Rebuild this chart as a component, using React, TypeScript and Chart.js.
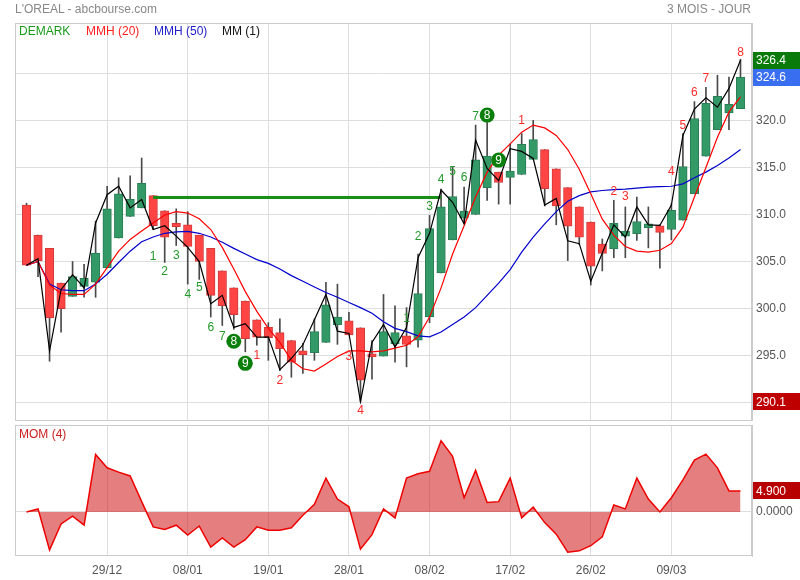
import React, { useEffect, useRef } from 'react';
import { Chart, registerables } from 'chart.js';

Chart.register(...registerables);

const FONT = 'Arial, "Liberation Sans", sans-serif';

// Trading days (17/12/2020 .. 17/03/2021)
const dates = [
  '17/12', '18/12', '21/12', '22/12', '23/12', '24/12', '28/12', '29/12', '30/12', '31/12',
  '04/01', '05/01', '06/01', '07/01', '08/01', '11/01', '12/01', '13/01', '14/01', '15/01',
  '18/01', '19/01', '20/01', '21/01', '22/01', '25/01', '26/01', '27/01', '28/01', '29/01',
  '01/02', '02/02', '03/02', '04/02', '05/02', '08/02', '09/02', '10/02', '11/02', '12/02',
  '15/02', '16/02', '17/02', '18/02', '19/02', '22/02', '23/02', '24/02', '25/02', '26/02',
  '01/03', '02/03', '03/03', '04/03', '05/03', '08/03', '09/03', '10/03', '11/03', '12/03',
  '15/03', '16/03', '17/03',
];

// MM (1): closing price
const closes = [
  304.6, 305.3, 295.5, 302.0, 303.6, 302.2, 309.1, 312.1, 313.0, 310.7,
  311.6, 308.4, 308.8, 307.7, 306.5, 305.0, 300.5, 301.4, 298.0, 298.4,
  296.95, 297.0, 293.5, 294.7, 296.15, 298.8, 301.5, 297.6, 297.35, 290.1,
  296.4, 298.3, 295.9, 298.0, 305.4, 308.0, 312.6, 311.3, 309.0, 317.9,
  314.9, 313.6, 317.0, 316.7, 315.95, 311.0, 311.7, 307.2, 306.9, 302.9,
  305.9, 308.9, 307.6, 310.8, 308.9, 308.85, 311.0, 318.4, 321.2, 322.4,
  321.4, 323.4, 326.4,
];

// Heikin-Ashi candles
const haOpen = [
  311.0, 307.8, 306.4, 302.7, 301.3, 302.35, 302.8, 304.35, 307.5, 309.8,
  310.7, 312.0, 310.4, 309.05, 308.9, 307.8, 306.4, 304.0, 302.2, 300.8,
  298.8, 298.0, 297.45, 296.6, 295.5, 295.3, 296.4, 298.3, 298.7, 297.95,
  295.2, 294.95, 296.25, 297.1, 296.65, 299.1, 303.8, 307.3, 309.6, 310.0,
  312.85, 314.5, 313.95, 314.25, 315.85, 316.9, 314.85, 312.85, 310.8, 309.2,
  306.85, 306.35, 307.7, 307.95, 308.6, 308.8, 308.4, 309.4, 312.2, 316.2,
  319.0, 320.8, 321.25,
];
const haClose = [
  304.6, 305.1, 299.0, 300.0, 303.4, 303.2, 305.9, 310.6, 312.2, 311.6,
  313.3, 308.8, 307.6, 308.7, 306.6, 305.0, 301.4, 300.3, 299.35, 296.8,
  296.95, 296.9, 295.75, 294.3, 295.1, 297.55, 300.4, 299.1, 297.2, 292.4,
  294.85, 297.55, 297.45, 296.2, 301.6, 308.5, 310.8, 311.9, 310.35, 315.8,
  316.2, 313.4, 314.6, 317.45, 317.95, 312.75, 310.9, 308.75, 307.6, 304.5,
  305.85, 309.05, 308.2, 309.25, 309.0, 308.1, 310.45, 315.1, 320.2, 321.8,
  322.55, 321.7, 324.6,
];
const haHigh = [
  311.2, 307.8, 306.4, 302.7, 305.0, 304.7, 309.3, 313.0, 313.9, 314.1,
  316.0, 312.0, 310.4, 310.6, 310.3, 307.8, 306.4, 304.0, 302.2, 300.8,
  298.8, 298.5, 298.9, 296.6, 296.3, 298.9, 302.8, 302.6, 299.6, 297.95,
  296.6, 301.5, 300.3, 300.1, 305.8, 309.9, 312.7, 315.0, 312.9, 319.5,
  320.8, 314.5, 317.5, 318.6, 320.0, 316.9, 314.85, 312.85, 310.8, 309.2,
  307.4, 311.5, 310.8, 311.85, 310.8, 308.9, 311.15, 318.6, 322.0, 323.5,
  324.8, 324.6, 326.5,
];
const haLow = [
  304.6, 303.4, 294.4, 297.5, 301.3, 301.2, 301.2, 304.35, 307.5, 309.8,
  310.7, 308.4, 304.9, 306.7, 302.6, 303.1, 299.1, 298.2, 297.8, 295.4,
  296.1, 294.5, 293.4, 292.7, 293.1, 294.5, 296.4, 296.2, 297.2, 290.1,
  292.5, 294.95, 294.3, 293.8, 295.9, 298.5, 303.8, 307.3, 309.0, 310.0,
  311.5, 311.1, 311.1, 314.25, 315.85, 310.9, 308.9, 305.1, 306.8, 302.5,
  304.0, 305.4, 305.4, 307.25, 306.45, 304.3, 307.3, 309.4, 312.2, 316.2,
  319.0, 319.0, 321.25,
];

// MMH (20) and MMH (50)
const mmh20 = [
  304.6, 305.0, 302.5, 301.6, 301.5, 301.5, 302.6, 304.35, 306.1, 307.35,
  308.25, 309.1, 309.95, 310.3, 310.15, 309.55, 308.4, 306.5, 304.2, 301.8,
  299.7, 297.9, 296.4, 294.5, 293.6, 293.35, 294.1, 294.9, 295.5, 295.5,
  295.4, 295.5, 295.8, 296.1, 297.0, 299.1, 302.2, 305.8, 308.8, 311.85,
  314.5, 316.3, 317.5, 318.75, 319.5, 319.2, 318.4, 316.9, 314.8, 312.2,
  309.5, 307.8, 306.6, 306.1, 306.0, 306.2, 306.9, 308.65, 311.85, 315.0,
  318.2, 320.9, 322.5,
];
const mmh50 = [
  304.6, 305.0, 302.6, 302.0, 301.9, 301.9, 302.6, 303.65, 304.9, 306.1,
  307.1, 307.6, 308.0, 308.15, 308.2, 308.0, 307.6, 307.05, 306.4, 305.8,
  305.2, 304.8, 304.2, 303.5, 302.9, 302.3, 301.7, 301.2, 300.65, 300.1,
  299.5, 298.6, 297.9, 297.55, 297.1, 297.0, 297.5, 298.3, 299.1, 300.1,
  301.4, 302.7, 304.15, 306.0, 307.6, 309.0, 310.3, 311.4, 312.0, 312.4,
  312.55, 312.65, 312.7, 312.8, 312.9, 312.95, 313.0, 313.25, 313.9, 314.5,
  315.2, 316.0, 316.9,
];

// MOM (4)
const mom4 = [
  0, 0.7, -8.9, -2.8, -1.0, -3.1, 13.4, 10.3, 9.3, 8.4,
  2.4, -3.5, -4.1, -3.1, -5.4, -3.3, -8.2, -6.1, -8.2, -6.5,
  -3.5, -4.3, -4.3, -3.7, -0.8, 1.8, 7.9, 3.0, 1.2, -8.7,
  -5.3, 0.7, -1.4, 7.9, 8.9, 9.5, 16.6, 13.0, 3.3, 9.7,
  2.2, 2.4, 7.9, -1.4, 1.1, -2.5, -5.2, -9.4, -9.1, -7.9,
  -5.8, 1.6, 0.7, 7.9, 3.0, 0, 3.3, 7.5, 12.1, 13.5,
  10.3, 4.9, 4.9,
];

// DeMark: TDST level line
const tdstStart = 11;
const tdstEnd = 36;
const tdstLevel = 311.8;

// DeMark counts: candle index and price position of the label
const buySetupIdx = [11, 12, 13, 14, 15, 16, 17, 18, 19];
const buySetupPos = [305.56, 303.9, 305.67, 301.52, 302.27, 298.0, 297.05, 296.52, 294.18];
const buyCountIdx = [20, 22, 28, 29];
const buyCountPos = [295.03, 292.37, 294.93, 289.1];
const sellSetupIdx = [33, 34, 35, 36, 37, 38, 39, 40, 41];
const sellSetupPos = [298.97, 307.6, 310.8, 313.65, 314.6, 313.86, 320.35, 320.56, 315.78];
const sellCountIdx = [43, 51, 52, 56, 57, 58, 59, 62];
const sellCountPos = [319.96, 312.4, 311.84, 314.53, 319.39, 322.94, 324.47, 327.23];

const xTickIdx = [7, 14, 21, 28, 35, 42, 49, 56];
const priceTicks = [290, 295, 300, 305, 310, 315, 320, 325];
const momTicks = [0];

const GRID = '#dedede';
const BORDER = '#cccccc';
const AXIS_TEXT = '#555555';

function strokeArea(chart: any) {
  const { ctx, chartArea: a } = chart;
  ctx.save();
  ctx.strokeStyle = BORDER;
  ctx.lineWidth = 1;
  ctx.strokeRect(Math.round(a.left) + 0.5, Math.round(a.top) + 0.5,
    Math.round(a.right - a.left) - 1, Math.round(a.bottom - a.top) - 1);
  ctx.restore();
}

function valueBox(chart: any, scale: any, value: number, text: string, color: string) {
  const { ctx, chartArea: a, width } = chart;
  const y = scale.getPixelForValue(value);
  ctx.save();
  ctx.fillStyle = color;
  ctx.fillRect(a.right + 1, Math.round(y - 8.5), width - a.right - 1, 17);
  ctx.fillStyle = '#ffffff';
  ctx.font = `12px ${FONT}`;
  ctx.textAlign = 'left';
  ctx.textBaseline = 'middle';
  ctx.fillText(text, a.right + 4, y + 0.5);
  ctx.restore();
}

const topDecor = {
  id: 'topDecor',
  afterDatasetsDraw(chart: any) {
    const { ctx, scales } = chart;
    const xs = scales.x;
    const ys = scales.y;
    ctx.save();
    ctx.font = `12px ${FONT}`;
    ctx.textAlign = 'center';
    ctx.textBaseline = 'middle';
    const setup = (idxs: number[], pos: number[]) => {
      idxs.forEach((ix, k) => {
        const x = xs.getPixelForValue(ix);
        const y = ys.getPixelForValue(pos[k]);
        const t = String(k + 1);
        if (k >= 7) {
          ctx.fillStyle = '#0b7f0b';
          ctx.beginPath();
          ctx.arc(x, y, 7.5, 0, Math.PI * 2);
          ctx.fill();
          ctx.fillStyle = '#ffffff';
          ctx.fillText(t, x, y + 0.5);
        } else {
          ctx.fillStyle = '#22992a';
          ctx.fillText(t, x, y);
        }
      });
    };
    const count = (idxs: number[], pos: number[]) => {
      idxs.forEach((ix, k) => {
        ctx.fillStyle = '#ff2a2a';
        ctx.fillText(String(k + 1), xs.getPixelForValue(ix), ys.getPixelForValue(pos[k]));
      });
    };
    setup(buySetupIdx, buySetupPos);
    count(buyCountIdx, buyCountPos);
    setup(sellSetupIdx, sellSetupPos);
    count(sellCountIdx, sellCountPos);
    ctx.restore();
  },
  afterDraw(chart: any) {
    strokeArea(chart);
    const ys = chart.scales.y;
    const lastClose = closes[closes.length - 1];
    const lastHa = haClose[haClose.length - 1];
    const minLow = Math.min(...haLow);
    valueBox(chart, ys, lastClose, lastClose.toFixed(1), '#0a7a0a');
    valueBox(chart, ys, lastHa, lastHa.toFixed(1), '#3a6ef0');
    valueBox(chart, ys, minLow, minLow.toFixed(1), '#bf0000');
  },
};

const bottomDecor = {
  id: 'bottomDecor',
  afterDraw(chart: any) {
    strokeArea(chart);
    const last = mom4[mom4.length - 1];
    valueBox(chart, chart.scales.y, last, last.toFixed(3), '#b80000');
  },
};

export default function App() {
  const topRef = useRef<HTMLCanvasElement>(null);
  const botRef = useRef<HTMLCanvasElement>(null);

  useEffect(() => {
    document.body.style.margin = '0';
    Chart.defaults.font.family = FONT;
    Chart.defaults.font.size = 12;

    const bodyColors = haOpen.map((o, i) => (haClose[i] >= o ? '#339966' : '#ff4444'));
    const bodyBorders = haOpen.map((o, i) => (haClose[i] >= o ? '#2a7d55' : '#d23a3a'));

    const top = new Chart(topRef.current as HTMLCanvasElement, {
      type: 'bar',
      data: {
        datasets: [
          {
            type: 'line', label: 'MM (1)',
            data: closes.map((v, i) => ({ x: i, y: v })),
            borderColor: '#000000', borderWidth: 1.2, pointRadius: 0, order: 1,
          },
          {
            type: 'line', label: 'MMH (20)',
            data: mmh20.map((v, i) => ({ x: i, y: v })),
            borderColor: '#ff0000', borderWidth: 1.2, pointRadius: 0, order: 2,
          },
          {
            type: 'line', label: 'MMH (50)',
            data: mmh50.map((v, i) => ({ x: i, y: v })),
            borderColor: '#0000cc', borderWidth: 1.2, pointRadius: 0, order: 3,
          },
          {
            type: 'line', label: 'DEMARK',
            data: [{ x: tdstStart, y: tdstLevel }, { x: tdstEnd, y: tdstLevel }],
            borderColor: '#178f17', borderWidth: 3, pointRadius: 0, order: 4,
          },
          {
            type: 'bar', label: 'body',
            data: haOpen.map((o, i) => ({ x: i, y: [o, haClose[i]] })),
            backgroundColor: bodyColors, borderColor: bodyBorders, borderWidth: 1,
            borderSkipped: false, barThickness: 8.5, grouped: false, order: 5,
          },
          {
            type: 'bar', label: 'wick',
            data: haLow.map((l, i) => ({ x: i, y: [l, haHigh[i]] })),
            backgroundColor: '#4a4a4a', barThickness: 1, grouped: false, order: 6,
          },
        ],
      } as any,
      options: {
        responsive: false,
        animation: false,
        events: [],
        layout: { padding: { left: 15, top: 23, right: 0, bottom: 0 } },
        plugins: { legend: { display: false }, tooltip: { enabled: false } },
        scales: {
          x: {
            type: 'linear', min: -1, max: 63, offset: false,
            grid: { color: GRID, drawTicks: false, offset: false },
            border: { display: false },
            ticks: { display: false },
            afterBuildTicks: (s: any) => { s.ticks = xTickIdx.map((v) => ({ value: v })); },
            afterFit: (s: any) => { s.height = 0; s.paddingLeft = 0; s.paddingRight = 0; },
          },
          y: {
            type: 'linear', position: 'right', min: 288.05, max: 330.35,
            grid: { color: GRID, drawTicks: false },
            border: { color: BORDER },
            ticks: {
              color: AXIS_TEXT, padding: 4, font: { size: 12, family: FONT },
              callback: (v: any) => (v === 290 || v === 325 ? '' : Number(v).toFixed(1)),
            },
            afterBuildTicks: (s: any) => { s.ticks = priceTicks.map((v) => ({ value: v })); },
            afterFit: (s: any) => { s.width = 48; s.paddingTop = 0; s.paddingBottom = 0; },
          },
        },
      } as any,
      plugins: [topDecor],
    });

    const bottom = new Chart(botRef.current as HTMLCanvasElement, {
      type: 'line',
      data: {
        datasets: [
          {
            label: 'MOM (4)',
            data: mom4.map((v, i) => ({ x: i, y: v })),
            borderColor: '#ee0000', borderWidth: 1.5,
            backgroundColor: 'rgba(204,0,0,0.5)', fill: 'origin', pointRadius: 0,
          },
        ],
      } as any,
      options: {
        responsive: false,
        animation: false,
        events: [],
        layout: { padding: { left: 15, top: 4, right: 0, bottom: 0 } },
        plugins: { legend: { display: false }, tooltip: { enabled: false } },
        scales: {
          x: {
            type: 'linear', min: -1, max: 63, offset: false,
            grid: { color: GRID, drawTicks: false, offset: false },
            border: { display: false },
            ticks: {
              color: AXIS_TEXT, padding: 7, maxRotation: 0, autoSkip: false,
              font: { size: 12, family: FONT },
              callback: (v: any) => dates[v as number] ?? '',
            },
            afterBuildTicks: (s: any) => { s.ticks = xTickIdx.map((v) => ({ value: v })); },
            afterFit: (s: any) => { s.height = 24; s.paddingLeft = 0; s.paddingRight = 0; },
          },
          y: {
            type: 'linear', position: 'right', min: -10.3, max: 20.3,
            grid: { color: GRID, drawTicks: false },
            border: { color: BORDER },
            ticks: {
              color: AXIS_TEXT, padding: 4, font: { size: 12, family: FONT },
              callback: (v: any) => Number(v).toFixed(4),
            },
            afterBuildTicks: (s: any) => { s.ticks = momTicks.map((v) => ({ value: v })); },
            afterFit: (s: any) => { s.width = 48; s.paddingTop = 0; s.paddingBottom = 0; },
          },
        },
      } as any,
      plugins: [bottomDecor],
    });

    return () => {
      top.destroy();
      bottom.destroy();
    };
  }, []);

  const txt = (extra: any): any => ({
    position: 'absolute', fontFamily: FONT, fontSize: 12, lineHeight: '14px',
    whiteSpace: 'nowrap', ...extra,
  });

  return (
    <div style={{ position: 'relative', width: 800, height: 580, overflow: 'hidden', background: '#fff' }}>
      <div style={{ position: 'absolute', left: 0, top: 0 }}>
        <canvas ref={topRef} width={800} height={421} style={{ display: 'block' }} />
      </div>
      <div style={{ position: 'absolute', left: 0, top: 421 }}>
        <canvas ref={botRef} width={800} height={159} style={{ display: 'block' }} />
      </div>
      <div style={txt({ left: 15, top: 1.5, color: '#888' })}>L'OREAL - abcbourse.com</div>
      <div style={txt({ right: 49, top: 1.5, color: '#888' })}>3 MOIS - JOUR</div>
      <div style={txt({ left: 19, top: 24, color: '#1a9a1a' })}>DEMARK</div>
      <div style={txt({ left: 86, top: 24, color: '#ff2020' })}>MMH (20)</div>
      <div style={txt({ left: 154, top: 24, color: '#2222cc' })}>MMH (50)</div>
      <div style={txt({ left: 222, top: 24, color: '#111' })}>MM (1)</div>
      <div style={txt({ left: 19, top: 427, color: '#cc2020' })}>MOM (4)</div>
    </div>
  );
}
